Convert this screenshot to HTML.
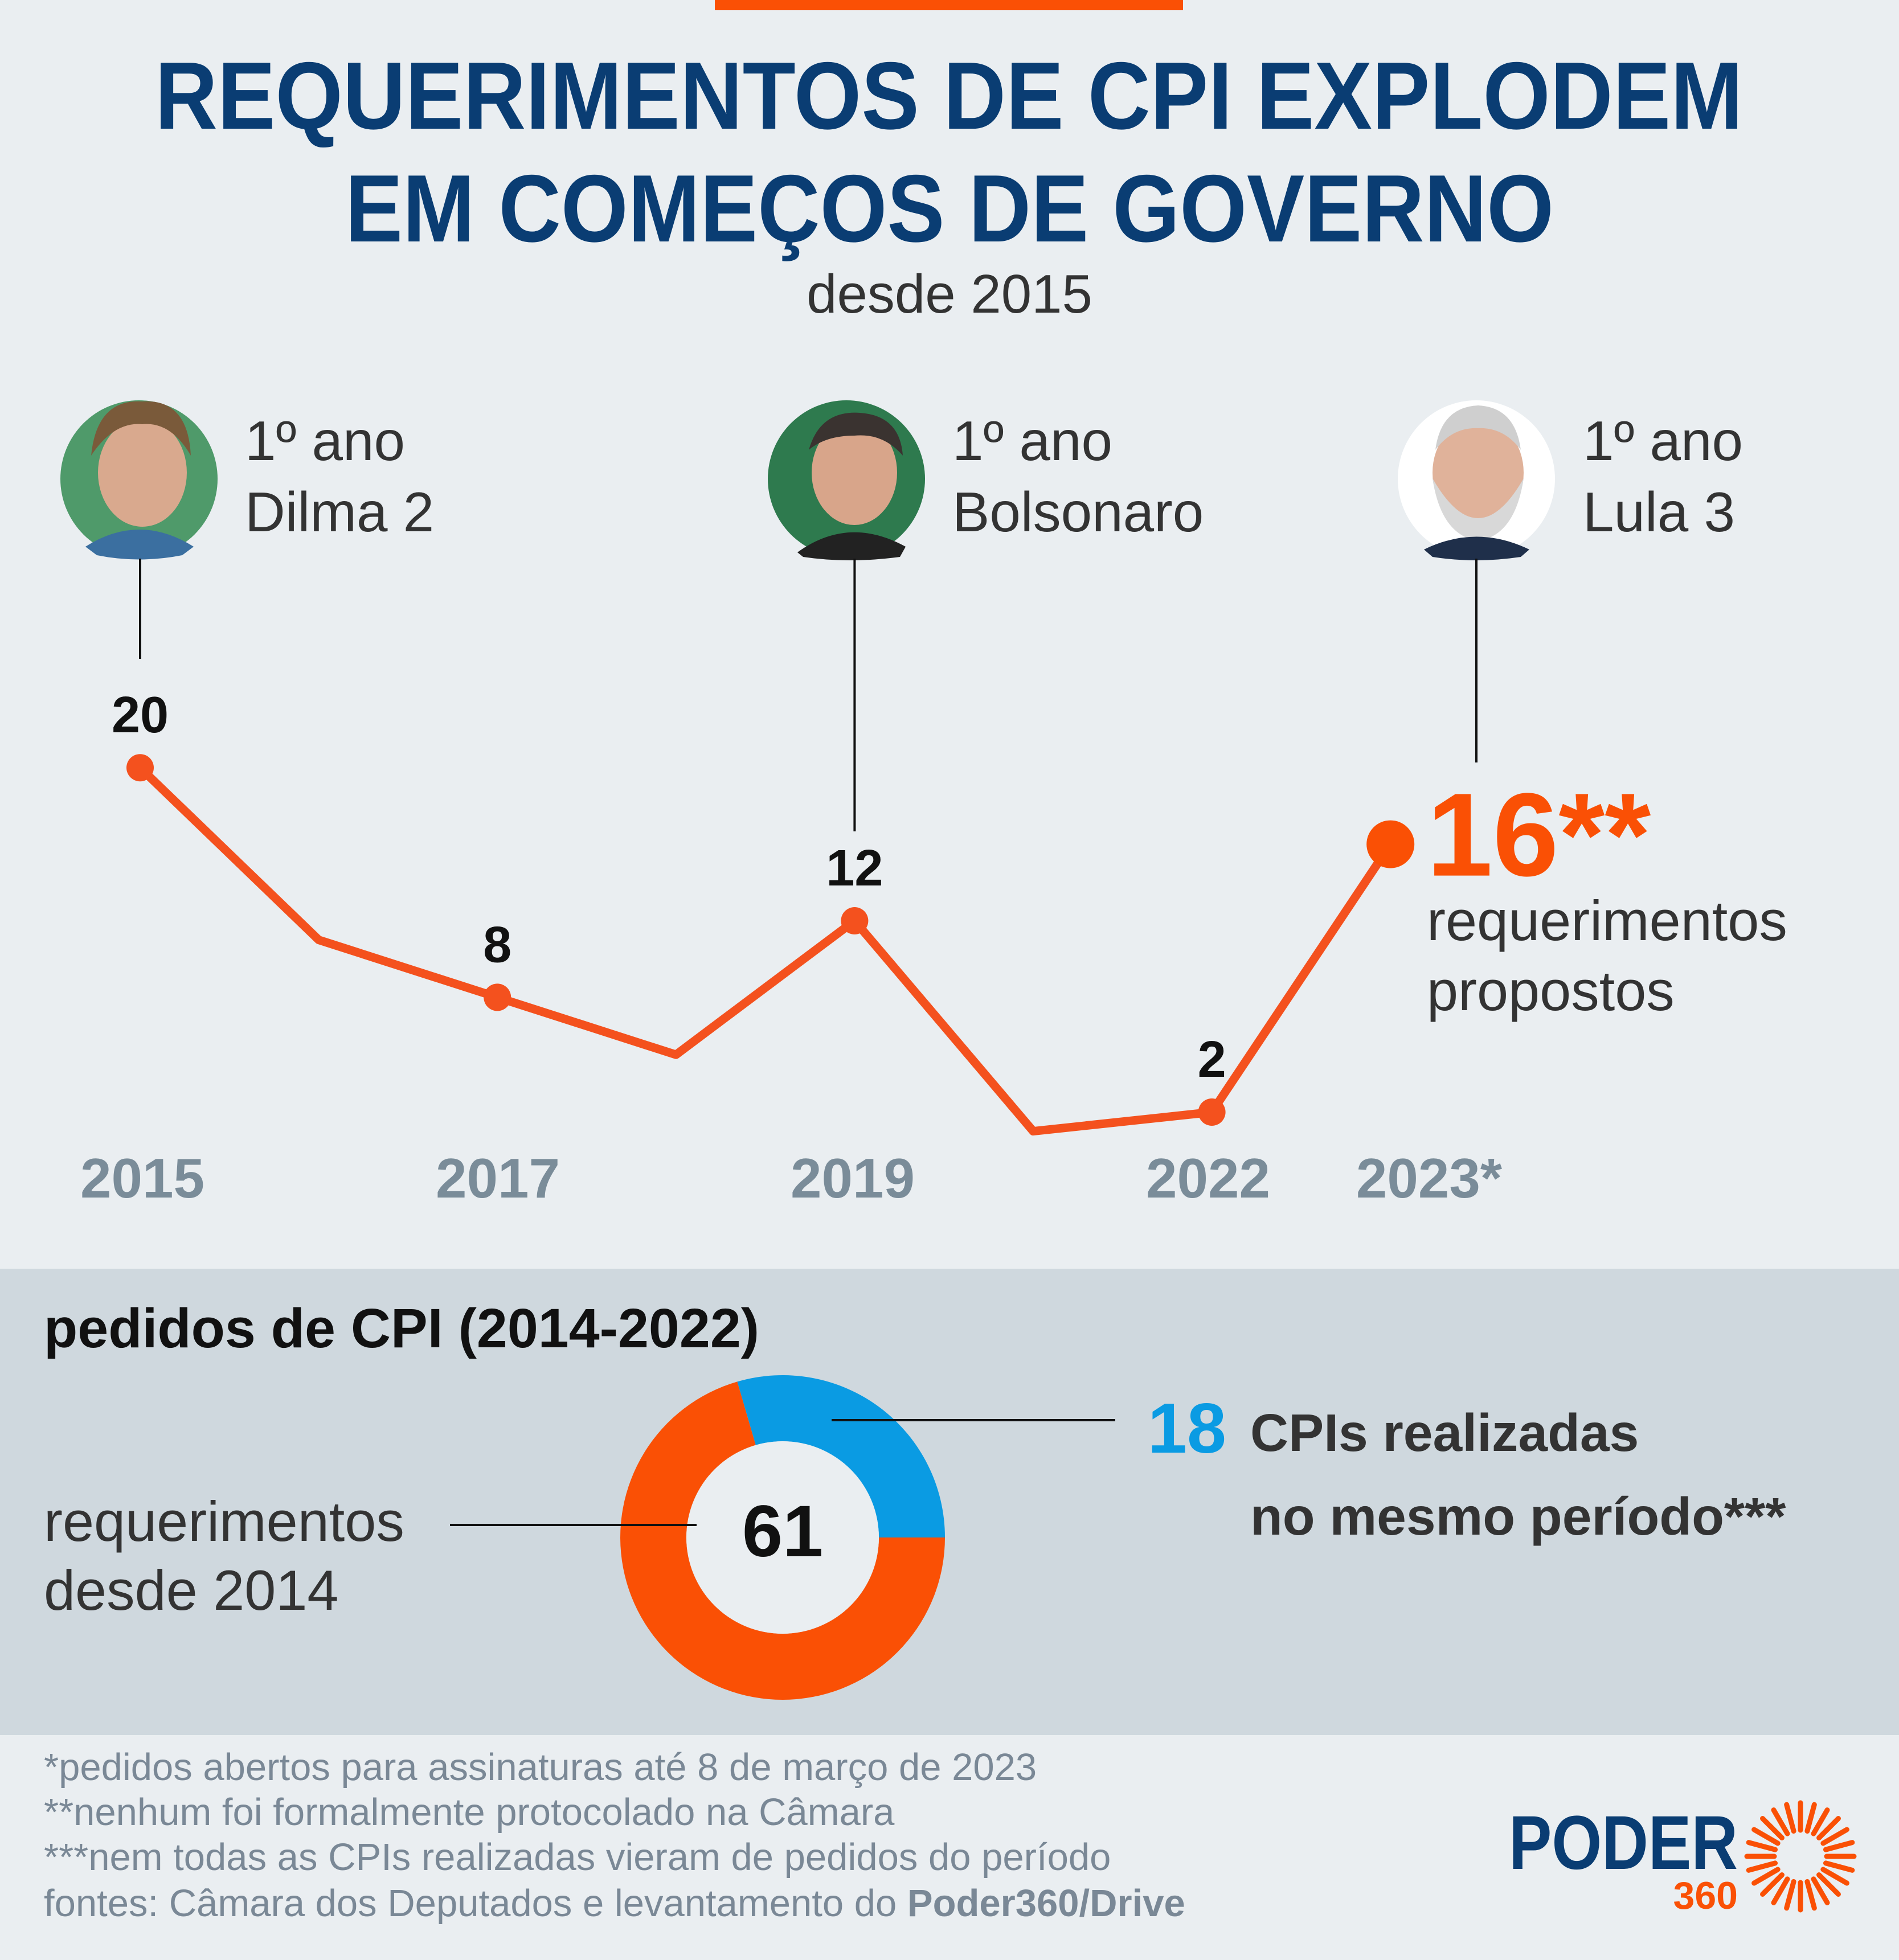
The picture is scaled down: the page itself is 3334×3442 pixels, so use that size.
<!DOCTYPE html>
<html><head><meta charset="utf-8"><style>
html,body{margin:0;padding:0;background:#eaeef1;}
svg{display:block;font-family:"Liberation Sans",sans-serif;}
</style></head><body>
<svg id="chart" width="3334" height="3442" viewBox="0 0 3334 3442" xmlns="http://www.w3.org/2000/svg">
<rect x="0" y="0" width="3334" height="3442" fill="#eaeef1"/>
<rect x="1255" y="0" width="822" height="18" fill="#fa5005"/>
<text x="1666" y="226" text-anchor="middle" font-size="168" font-weight="bold" fill="#0a3d73" textLength="2788" lengthAdjust="spacingAndGlyphs">REQUERIMENTOS DE CPI EXPLODEM</text>
<text x="1667" y="424" text-anchor="middle" font-size="168" font-weight="bold" fill="#0a3d73" textLength="2122" lengthAdjust="spacingAndGlyphs">EM COMEÇOS DE GOVERNO</text>
<text x="1667" y="549" text-anchor="middle" font-size="96" fill="#333">desde 2015</text>

<g>
<circle cx="244" cy="841" r="138" fill="#4f9a6a"/>
<ellipse cx="250" cy="830" rx="78" ry="95" fill="#d9a98e"/>
<path d="M160 800 Q170 700 250 705 Q330 700 335 800 Q300 740 250 745 Q200 740 160 800Z" fill="#7a5a3a"/>
<path d="M150 960 Q244 900 340 960 L320 975 Q244 990 170 975Z" fill="#3b6fa0"/>
</g>
<g>
<circle cx="1486" cy="841" r="138" fill="#2e7a4e"/>
<ellipse cx="1500" cy="830" rx="75" ry="92" fill="#d8a58a"/>
<path d="M1420 790 Q1440 720 1510 725 Q1580 730 1585 800 Q1550 760 1500 765 Q1450 765 1420 790Z" fill="#3a3330"/>
<path d="M1400 970 Q1490 905 1590 960 L1580 978 Q1490 990 1410 978Z" fill="#222"/>
</g>
<g>
<circle cx="2592" cy="841" r="138" fill="#ffffff"/>
<ellipse cx="2595" cy="830" rx="80" ry="95" fill="#e0b29a"/>
<path d="M2515 840 Q2595 980 2675 840 Q2660 940 2595 950 Q2530 940 2515 840Z" fill="#d8d8d8"/>
<path d="M2520 790 Q2530 715 2595 712 Q2660 715 2670 790 Q2640 750 2595 752 Q2550 750 2520 790Z" fill="#cfcfcf"/>
<path d="M2500 965 Q2592 920 2685 965 L2670 978 Q2592 990 2515 978Z" fill="#1f2f4a"/>
</g>

<text font-size="98" fill="#333"><tspan x="430" y="808">1º ano</tspan><tspan x="430" y="933">Dilma 2</tspan></text>
<text font-size="98" fill="#333"><tspan x="1672" y="808">1º ano</tspan><tspan x="1672" y="933">Bolsonaro</tspan></text>
<text font-size="98" fill="#333"><tspan x="2779" y="808">1º ano</tspan><tspan x="2779" y="933">Lula 3</tspan></text>

<g id="line-chart"></g>

<rect x="0" y="2228" width="3334" height="819" fill="#cfd8de"/>
<text x="77" y="2366" font-size="97" font-weight="bold" fill="#111">pedidos de CPI (2014-2022)</text>
<g id="donut"></g>
<text x="1374" y="2733" text-anchor="middle" font-size="128" font-weight="bold" fill="#111">61</text>
<line x1="790" y1="2678" x2="1223" y2="2678" stroke="#111" stroke-width="4"/>
<line x1="1460" y1="2494" x2="1958" y2="2494" stroke="#111" stroke-width="4"/>
<text font-size="99" fill="#333"><tspan x="77" y="2706">requerimentos</tspan><tspan x="77" y="2827">desde 2014</tspan></text>
<text x="2015" y="2551" font-size="124" font-weight="bold" fill="#0a9be3">18</text>
<text font-size="93" font-weight="bold" fill="#333"><tspan x="2195" y="2548">CPIs realizadas</tspan><tspan x="2195" y="2695">no mesmo período***</tspan></text>

<g font-size="67" fill="#7a8896">
<text x="77" y="3126">*pedidos abertos para assinaturas até 8 de março de 2023</text>
<text x="77" y="3205">**nenhum foi formalmente protocolado na Câmara</text>
<text x="77" y="3284">***nem todas as CPIs realizadas vieram de pedidos do período</text>
<text x="77" y="3365">fontes: Câmara dos Deputados e levantamento do <tspan font-weight="bold">Poder360/Drive</tspan></text>
</g>
<g>
<text x="2649" y="3282" font-size="134" font-weight="bold" fill="#0a3d73" textLength="402" lengthAdjust="spacingAndGlyphs">PODER</text>
<text x="3051" y="3352" text-anchor="end" font-size="68" font-weight="bold" fill="#fa5005">360</text>
<g id="sun" stroke="#fa5005" stroke-width="9" stroke-linecap="round"></g>
</g>
</svg>
<script>
const categories = ['2015','2016','2017','2018','2019','2020','2022','2023*'];
const values = [20, 11, 8, 5, 12, 1, 2, 16];
const labeledIdx = [0, 2, 4, 6];
const axisLabels = ['2015','2017','2019','2022','2023*'];
const donutValues = [18, 43];
const NS = 'http://www.w3.org/2000/svg';
function mk(tag, attrs, parent) { const e = document.createElementNS(NS, tag); for (const k in attrs) e.setAttribute(k, attrs[k]); parent.appendChild(e); return e; }
const xScale = i => 246 + i * 313.6;
const yScale = v => 1953 - (v - 2) * 33.6;
const g = document.getElementById('line-chart');
const connectors = [[0, 1157], [4, 1460], [7, 1339]];
connectors.forEach(([i, y2]) => {
  const x = i === 7 ? 2592 : xScale(i);
  const l = mk('line', {x1: x, y1: 981, x2: x, y2: y2, stroke: '#111', 'stroke-width': 4}, g);
  
  
});
const pts = values.map((v, i) => xScale(i) + ',' + yScale(v)).join(' ');
const pl = mk('polyline', {points: pts, fill: 'none', stroke: '#f4511e', 'stroke-width': 15, 'stroke-linejoin': 'round'}, g);


labeledIdx.forEach(i => {
  const c = mk('circle', {cx: xScale(i), cy: yScale(values[i]), r: 24, fill: '#f4511e'}, g);
  
  
  const t = mk('text', {x: xScale(i), y: yScale(values[i]) - 62, 'text-anchor': 'middle', 'font-size': 90, 'font-weight': 'bold', fill: '#111'}, g);
  t.textContent = values[i];
  
  
});
const last = values.length - 1;
const lc = mk('circle', {cx: xScale(last), cy: yScale(values[last]), r: 42, fill: '#fa5005'}, g);


const big = mk('text', {x: 2505, y: yScale(values[last]) + 55, 'font-size': 208, 'font-weight': 'bold', fill: '#fa5005'}, g);
big.textContent = values[last] + '**';


const sub = mk('text', {'font-size': 99, fill: '#333'}, g);


mk('tspan', {x: 2505, y: 1651}, sub).textContent = 'requerimentos';
mk('tspan', {x: 2505, y: 1774}, sub).textContent = 'propostos';
const axisX = [250, 874, 1497, 2121, 2509];
axisLabels.forEach((s, i) => {
  const t = mk('text', {x: axisX[i], y: 2103, 'text-anchor': 'middle', 'font-size': 98, 'font-weight': 'bold', fill: '#7a8c99'}, g);
  t.textContent = s;
  
  
});
const dg = document.getElementById('donut');
const cx = 1374, cy = 2700, R = 285, r0 = 169;
const total = donutValues.reduce((a, b) => a + b, 0);
const colors = ['#0a9be3', '#fa5005'];
const names = ['donut-slice-realizadas', 'donut-slice-requerimentos'];
let a0 = 90 - donutValues[0] / total * 360;
donutValues.forEach((v, k) => {
  const a1 = a0 + v / total * 360;
  const p = (a, rr) => [cx + rr * Math.sin(a * Math.PI / 180), cy - rr * Math.cos(a * Math.PI / 180)];
  const [x1, y1] = p(a0, R), [x2, y2] = p(a1, R), [x3, y3] = p(a1, r0), [x4, y4] = p(a0, r0);
  const large = (a1 - a0) > 180 ? 1 : 0;
  const path = mk('path', {d: `M${x1},${y1} A${R},${R} 0 ${large} 1 ${x2},${y2} L${x3},${y3} A${r0},${r0} 0 ${large} 0 ${x4},${y4} Z`, fill: colors[k]}, dg);
  
  
  a0 = a1;
});
const hole = mk('circle', {cx: cx, cy: cy, r: r0, fill: '#eaeef1'}, dg);


const sun = document.getElementById('sun');
for (let k = 0; k < 24; k++) {
  const a = k / 24 * Math.PI * 2;
  const l = mk('line', {x1: 3161 + 46 * Math.cos(a), y1: 3260 + 46 * Math.sin(a), x2: 3161 + 94 * Math.cos(a), y2: 3260 + 94 * Math.sin(a)}, sun);
  
  
}
</script>
</body></html>
